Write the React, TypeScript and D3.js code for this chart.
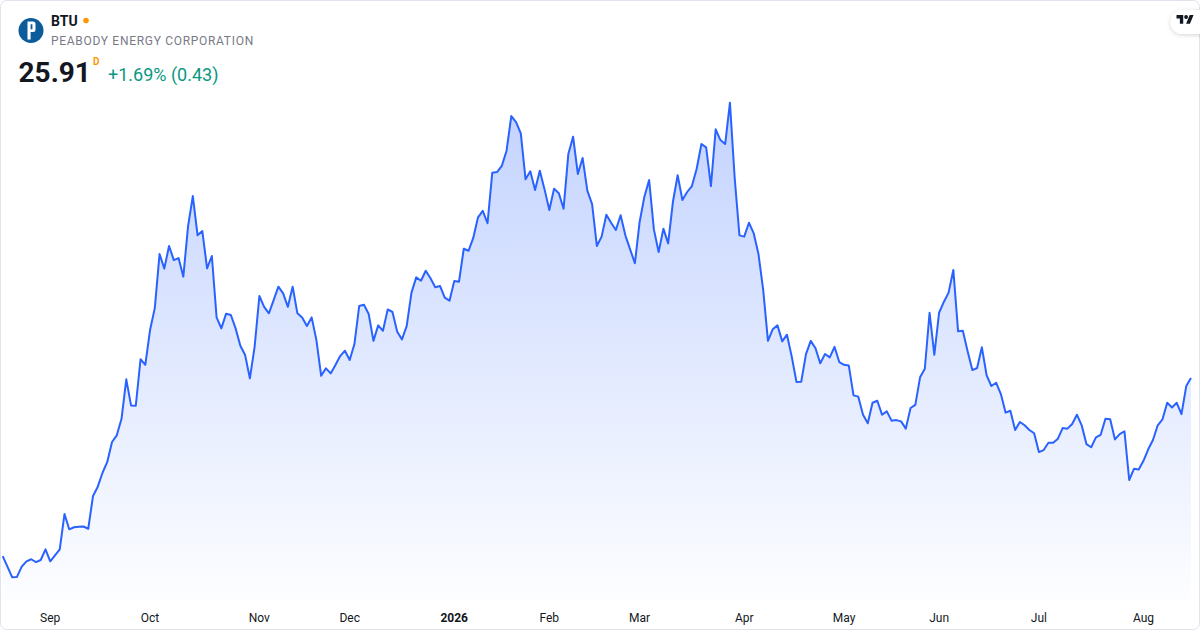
import React, { useEffect } from "react";
import * as d3 from "d3";

// ---- data ----
const symbol = "BTU";
const companyName = "PEABODY ENERGY CORPORATION";
const intervalLabel = "D";
const startDate = "2025-08-18";
const marketHolidays = [
  "2025-09-01", "2025-11-27", "2025-12-25", "2026-01-01", "2026-01-19",
  "2026-02-16", "2026-04-03", "2026-05-25", "2026-06-19", "2026-07-03",
];
const closePrices = [
  16.34, 15.77, 15.20, 15.22, 15.77, 16.06, 16.17, 16.02, 16.13, 16.70,
  16.06, 16.38, 16.70, 18.60, 17.78, 17.89, 17.92, 17.93, 17.81, 19.57,
  20.07, 20.82, 21.40, 22.47, 22.83, 23.72, 25.84, 24.44, 24.42, 26.92,
  26.62, 28.49, 29.67, 32.58, 31.79, 33.01, 32.25, 32.36, 31.36, 34.08,
  35.69, 33.58, 33.81, 31.81, 32.47, 29.17, 28.58, 29.37, 29.30, 28.58,
  27.65, 27.15, 25.89, 27.59, 30.32, 29.74, 29.39, 30.10, 30.82, 30.46,
  29.74, 30.82, 29.39, 29.17, 28.71, 29.17, 27.95, 26.03, 26.43, 26.16,
  26.61, 27.09, 27.38, 26.88, 27.74, 29.78, 29.85, 29.35, 27.91, 28.74,
  28.45, 29.60, 29.46, 28.40, 27.99, 28.71, 30.50, 31.32, 31.14, 31.68,
  31.27, 30.79, 30.86, 30.23, 30.07, 31.12, 31.09, 32.86, 32.75, 33.44,
  34.55, 34.90, 34.23, 36.95, 36.98, 37.31, 38.13, 39.99, 39.67, 39.06,
  36.59, 37.02, 36.02, 37.05, 36.05, 34.94, 36.09, 35.84, 35.01, 37.95,
  38.88, 36.88, 37.74, 35.98, 35.26, 33.01, 33.51, 34.69, 34.26, 33.87,
  34.66, 33.58, 32.83, 32.08, 34.30, 35.66, 36.55, 33.90, 32.68, 33.94,
  33.15, 35.37, 36.81, 35.48, 35.91, 36.23, 37.16, 38.49, 38.31, 36.23,
  39.28, 38.70, 38.49, 40.71, 36.66, 33.58, 33.51, 34.26, 33.69, 32.58,
  30.64, 27.91, 28.53, 28.74, 27.88, 28.24, 27.06, 25.70, 25.71, 27.20,
  27.91, 27.51, 26.70, 27.20, 27.02, 27.59, 26.77, 26.62, 26.59, 24.98,
  24.91, 23.94, 23.48, 24.58, 24.69, 23.94, 24.12, 23.62, 23.65, 23.58,
  23.19, 24.30, 24.47, 25.95, 26.41, 29.42, 27.16, 29.42, 30.00, 30.50,
  31.72, 28.42, 28.45, 27.35, 26.34, 26.45, 27.56, 26.06, 25.48, 25.66,
  25.05, 24.05, 24.15, 23.12, 23.55, 23.37, 23.12, 22.94, 21.93, 22.04,
  22.43, 22.43, 22.65, 23.22, 23.19, 23.44, 23.94, 23.37, 22.36, 22.19,
  22.72, 22.86, 23.72, 23.69, 22.61, 22.90, 23.05, 20.43, 21.03, 21.00,
  21.46, 22.08, 22.58, 23.37, 23.69, 24.58, 24.33, 24.58, 23.97, 25.48,
  25.91,
];

// ---- helpers ----
const parse = d3.utcParse("%Y-%m-%d");
const fmtDay = d3.utcFormat("%Y-%m-%d");
function tradingDays(start: string, count: number, holidays: string[]): Date[] {
  const out: Date[] = [];
  const hol = new Set(holidays);
  let d = parse(start) as Date;
  while (out.length < count) {
    const wd = d.getUTCDay();
    if (wd !== 0 && wd !== 6 && !hol.has(fmtDay(d))) out.push(d);
    d = d3.utcDay.offset(d, 1);
  }
  return out;
}

const W = 1200;
const H = 630;
const FONT = "Roboto, 'Open Sans', sans-serif";

export default function App() {
  useEffect(() => {
    document.body.style.margin = "0";
  }, []);

  const dates = tradingDays(startDate, closePrices.length, marketHolidays);
  const n = closePrices.length;

  const x = d3.scaleLinear().domain([0, n - 1]).range([2.7, 1191]);
  const [minP, maxP] = d3.extent(closePrices) as [number, number];
  const y = d3.scaleLinear().domain([minP, maxP]).range([577.3, 102.7]);
  const plotBottom = 600;

  const line = d3
    .line<number>()
    .x((_, i) => x(i))
    .y((d) => y(d));
  const area = d3
    .area<number>()
    .x((_, i) => x(i))
    .y0(plotBottom)
    .y1((d) => y(d));

  // month ticks: first trading day of each month
  const ticks: { i: number; label: string; bold: boolean }[] = [];
  for (let i = 1; i < n; i++) {
    if (dates[i].getUTCMonth() !== dates[i - 1].getUTCMonth()) {
      const isYear = dates[i].getUTCMonth() === 0;
      ticks.push({
        i,
        label: isYear ? d3.utcFormat("%Y")(dates[i]) : d3.utcFormat("%b")(dates[i]),
        bold: isYear,
      });
    }
  }

  const last = closePrices[n - 1];
  const prev = closePrices[n - 2];
  const chg = last - prev;
  const pct = (chg / prev) * 100;
  const chgText = `${chg >= 0 ? "+" : "−"}${Math.abs(pct).toFixed(2)}% (${Math.abs(chg).toFixed(2)})`;

  return (
    <div style={{ position: "absolute", left: 0, top: 0, width: W, height: H, background: "#fff" }}>
      <svg width={W} height={H} viewBox={`0 0 ${W} ${H}`} style={{ display: "block", fontFamily: FONT }}>
        <defs>
          <linearGradient id="fillGrad" gradientUnits="userSpaceOnUse" x1="0" y1={100} x2="0" y2={plotBottom}>
            <stop offset="0" stopColor="#2962ff" stopOpacity={0.28} />
            <stop offset="1" stopColor="#2962ff" stopOpacity={0.01} />
          </linearGradient>
          <clipPath id="plotClip">
            <rect x={1} y={1} width={1191} height={plotBottom - 1} />
          </clipPath>
          <filter id="pillShadow" x="-50%" y="-50%" width="200%" height="200%">
            <feDropShadow dx="0" dy="1" stdDeviation="2" floodColor="#000" floodOpacity="0.18" />
          </filter>
        </defs>

        <rect x={0.5} y={0.5} width={W - 1} height={H - 1} rx={6} fill="#fff" stroke="#e0e3eb" />

        <g clipPath="url(#plotClip)">
          <path d={area(closePrices) as string} fill="url(#fillGrad)" />
          <path d={line(closePrices) as string} fill="none" stroke="#2962ff" strokeWidth={2} strokeLinejoin="round" />
        </g>

        {ticks.map((t) => (
          <text
            key={t.i}
            x={x(t.i)}
            y={621.5}
            textAnchor="middle"
            fontSize={12}
            fontWeight={t.bold ? 700 : 400}
            fill="#131722"
          >
            {t.label}
          </text>
        ))}

        {/* header */}
        <circle cx={31} cy={30.5} r={12.5} fill="#0c5c9c" />
        <path
          fillRule="evenodd"
          fill="#fff"
          d="M27.5 21.5 H33 Q35.5 21.5 35.5 24 V29.5 Q35.5 32 33 32 H30.6 V39.5 H27.5 Z M30.6 24.2 H32.4 V29.3 H30.6 Z"
        />
        <text x={51} y={26} fontSize={14} fontWeight={700} fill="#131722">
          {symbol}
        </text>
        <circle cx={86} cy={20.5} r={2.8} fill="#ff9800" />
        <text x={51} y={45} fontSize={12} fill="#787b86" letterSpacing={0.7}>
          {companyName}
        </text>
        <text x={18.5} y={82} fontSize={28} fontWeight={700} fill="#131722">
          {last.toFixed(2)}
        </text>
        <text x={93} y={65} fontSize={10} fontWeight={700} fill="#ff9800">
          {intervalLabel}
        </text>
        <text x={108} y={81} fontSize={18} fill="#089981">
          {chgText}
        </text>

        {/* TradingView badge */}
        <rect x={1170.5} y={10} width={44} height={24} rx={12} fill="#fff" filter="url(#pillShadow)" />
        <g transform="translate(1176.5,13.2) scale(0.48)" fill="#131722">
          <path d="M14 22H7V11H0V4h14v18zM28 22h-8l7.5-18h8L28 22z" />
          <circle cx={20} cy={8} r={4} />
        </g>
      </svg>
    </div>
  );
}
